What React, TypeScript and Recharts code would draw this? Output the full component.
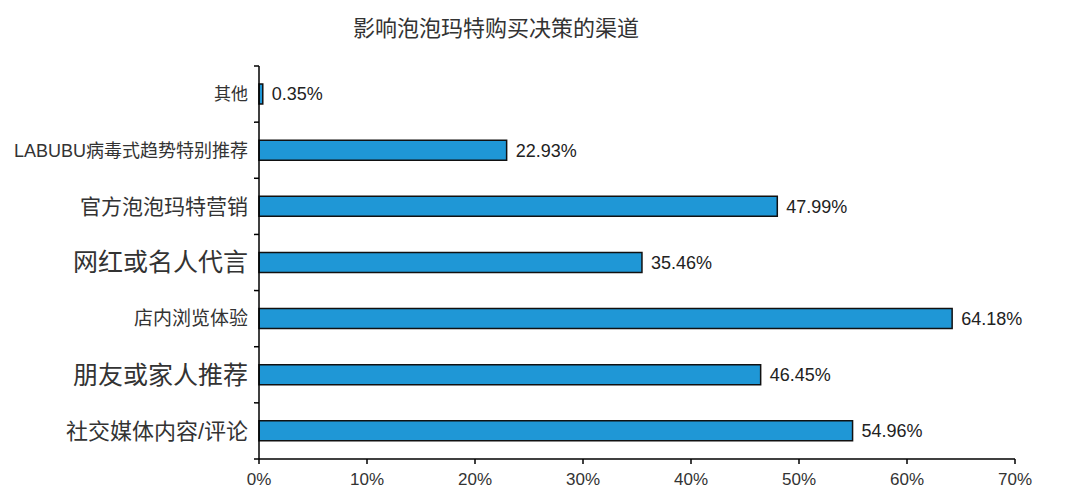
import * as React from 'react';
import { BarChart, Bar, XAxis, YAxis, LabelList } from 'recharts';

// top to bottom
const channels = [
  '其他',
  'LABUBU病毒式趋势特别推荐',
  '官方泡泡玛特营销',
  '网红或名人代言',
  '店内浏览体验',
  '朋友或家人推荐',
  '社交媒体内容/评论',
];
const shares = [0.35, 22.93, 47.99, 35.46, 64.18, 46.45, 54.96];
const xTicks = [0, 10, 20, 30, 40, 50, 60, 70];

const title = '影响泡泡玛特购买决策的渠道';

// the source uses mixed label sizes
const labelSizes = [17, 18, 21, 25, 19, 25, 22];

const FONT = '"Liberation Sans", "Noto Sans CJK SC", sans-serif';
const W = 1057, H = 492;
const margin = { top: 58, right: 50, left: 0, bottom: 11 };
const yAxisW = 251;
const plotH = H - margin.top - margin.bottom - 30;

const YTick = (props: any) => {
  const { y, payload, index } = props,
        axisX = margin.left + yAxisW,
        band = plotH / channels.length;
  return (
    <g>
      <line x1={axisX - 5} x2={axisX} y1={y - band / 2} y2={y - band / 2} stroke="#000" strokeWidth={1.5} />
      {index === channels.length - 1 &&
        <line x1={axisX - 5} x2={axisX} y1={y + band / 2} y2={y + band / 2} stroke="#000" strokeWidth={1.5} />}
      <text x={axisX - 11} y={y} dy="0.35em" textAnchor="end" fontSize={labelSizes[index]}
            fill="#333" fontFamily={FONT}>
        {payload.value}
      </text>
    </g>
  );
};

export default function App() {
  const data = channels.map((name, i) => ({ name, value: shares[i] }));

  return (
    <div style={{ position: 'relative', width: W, height: H }}>
      <div style={{ position: 'absolute', left: 0, width: 976, top: 2, textAlign: 'center',
                    fontFamily: FONT, fontSize: 22, color: '#333' }}>
        {title}
      </div>
      <BarChart width={W} height={H} data={data} layout="vertical" margin={margin} barSize={20}>
        <XAxis type="number" domain={[0, 70]} ticks={xTicks} height={30}
               tickFormatter={(v) => `${v}%`} tickSize={5} tickMargin={9}
               axisLine={{ stroke: '#000', strokeWidth: 1.5 }}
               tickLine={{ stroke: '#000', strokeWidth: 1.5 }}
               tick={{ fontSize: 17, fill: '#333', fontFamily: FONT }} />
        <YAxis type="category" dataKey="name" width={yAxisW} interval={0}
               axisLine={{ stroke: '#000', strokeWidth: 1.5 }} tickLine={false}
               tick={<YTick />} />
        <Bar dataKey="value" fill="#1f97d6" stroke="#111" strokeWidth={1.5} isAnimationActive={false}>
          <LabelList dataKey="value" position="right" offset={9}
                     formatter={(v: any) => `${v}%`}
                     style={{ fontSize: 18, fill: '#222', fontFamily: FONT }} />
        </Bar>
      </BarChart>
    </div>
  );
}
